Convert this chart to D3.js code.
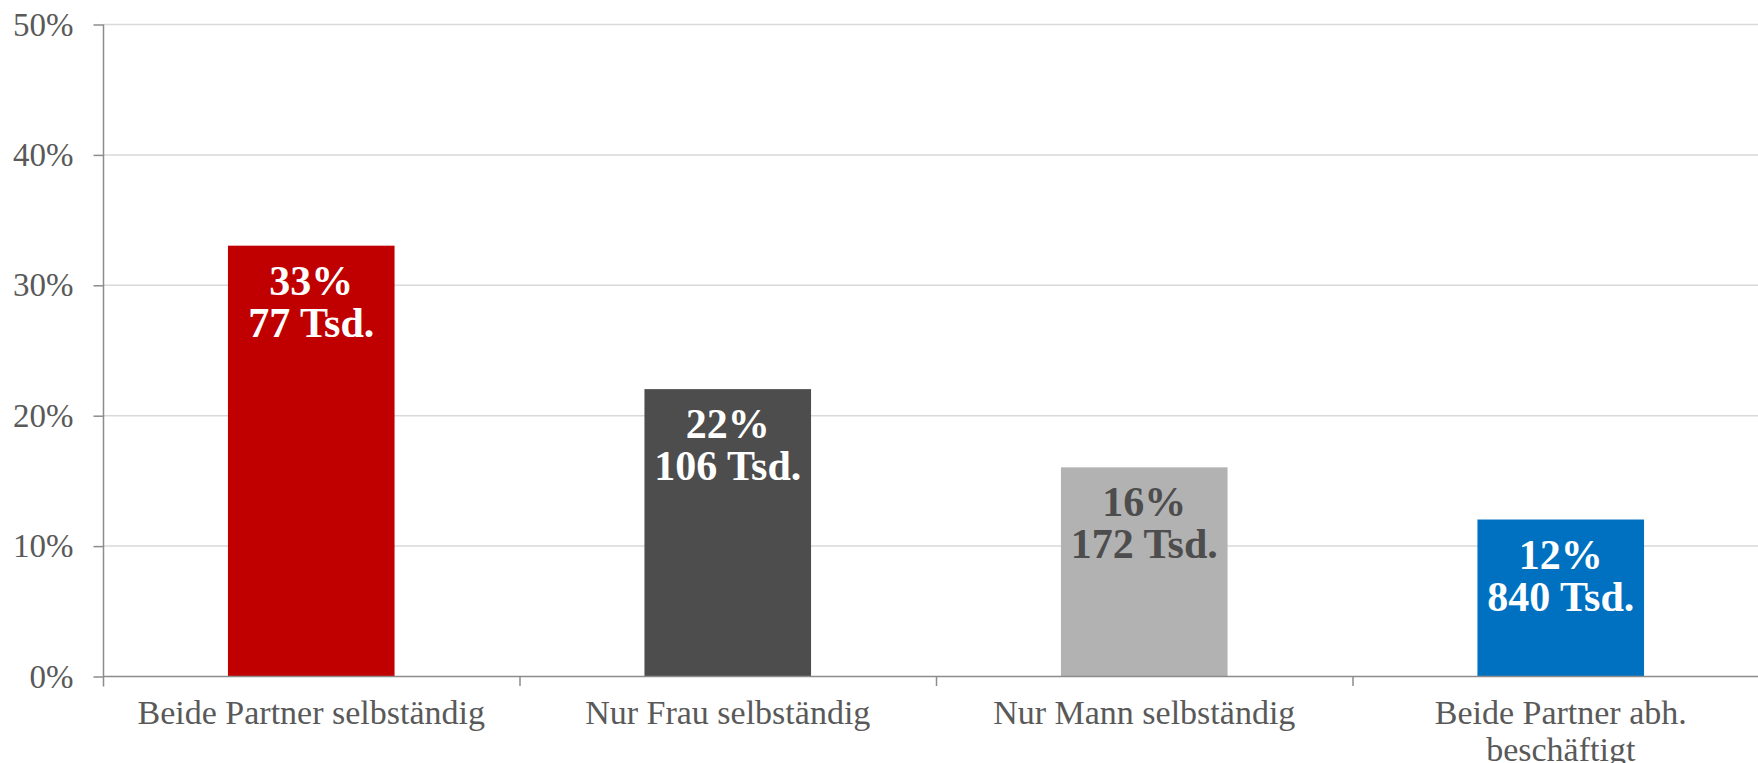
<!DOCTYPE html>
<html>
<head>
<meta charset="utf-8">
<script src="https://cdn.jsdelivr.net/npm/d3@7"></script>
<style>
    body { margin: 0; background: #fff; }
    svg { display: block; }
</style>
</head>
<body>
<div id="chart"></div>
<script>
// values
var categories = ["Beide Partner selbständig", "Nur Frau selbständig", "Nur Mann selbständig", "Beide Partner abh. beschäftigt"];
var shares = [33, 22, 16, 12];          // percent
var counts = [77, 106, 172, 840];       // Tsd.
var barColors = ["#c00000", "#4d4d4d", "#b2b2b2", "#0070c0"];
var labelColors = ["#ffffff", "#ffffff", "#4d4d4d", "#ffffff"];
var yTicks = [0, 10, 20, 30, 40, 50];

var w = 1758;
var h = 763;
var margin = {top: 24, right: -11, bottom: 87, left: 103};

var data = categories.map(function(c, i) {
    return {cat: c, share: shares[i], count: counts[i], color: barColors[i], text: labelColors[i]};
});

var svg = d3.select("#chart").append("svg")
    .attr("width", w)
    .attr("height", h);

var xScale = d3.scaleBand()
    .domain(categories)
    .range([margin.left, w - margin.right])
    .paddingInner(0.6)
    .paddingOuter(0.3);

var yScale = d3.scaleLinear()
    .domain([0, 50])
    .range([h - margin.bottom, margin.top]);

// gridlines
svg.append("g").selectAll("line").data(yTicks.slice(1)).enter()
    .append("line")
    .attr("x1", margin.left)
    .attr("x2", w)
    .attr("y1", function(d) { return yScale(d) + 0.5; })
    .attr("y2", function(d) { return yScale(d) + 0.5; })
    .attr("stroke", "#d9d9d9")
    .attr("stroke-width", 1.5);

// y axis
var yAxis = d3.axisLeft(yScale)
    .tickValues(yTicks)
    .tickSize(10)
    .tickPadding(20)
    .tickFormat(function(d) { return d + "%"; });

var yAxisGroup = svg.append("g")
    .attr("transform", "translate(" + [margin.left + 0.5, 0.5] + ")")
    .call(yAxis);
yAxisGroup.select(".domain")
    .attr("d", "M0," + (yScale(50)) + "V" + (yScale(0) + 10));
yAxisGroup.selectAll("line, path").attr("stroke", "#8c8c8c").attr("stroke-width", 1.5);
yAxisGroup.selectAll("text")
    .attr("fill", "#595959")
    .style("font-family", "'Liberation Serif', 'DejaVu Serif', serif")
    .style("font-size", "33px");

// bars
svg.append("g").selectAll("rect").data(data).enter()
    .append("rect")
    .attr("x", function(d) { return xScale(d.cat); })
    .attr("y", function(d) { return yScale(d.share); })
    .attr("width", xScale.bandwidth())
    .attr("height", function(d) { return yScale(0) - yScale(d.share); })
    .attr("fill", function(d) { return d.color; });

// x axis: base line plus ticks between categories
var xAxisGroup = svg.append("g");
xAxisGroup.append("line")
    .attr("x1", margin.left)
    .attr("x2", w)
    .attr("y1", yScale(0) + 0.5)
    .attr("y2", yScale(0) + 0.5)
    .attr("stroke", "#8c8c8c")
    .attr("stroke-width", 1.5);
xAxisGroup.selectAll(".xtick").data(categories.slice(1)).enter()
    .append("line")
    .attr("class", "xtick")
    .attr("x1", function(d) { return xScale(d) - xScale.step() * xScale.paddingInner() / 2 + 0.5; })
    .attr("x2", function(d) { return xScale(d) - xScale.step() * xScale.paddingInner() / 2 + 0.5; })
    .attr("y1", yScale(0))
    .attr("y2", yScale(0) + 10)
    .attr("stroke", "#8c8c8c")
    .attr("stroke-width", 1.5);

// category labels, wrapped when wider than the band
var catLabels = xAxisGroup.selectAll(".cat").data(categories).enter()
    .append("text")
    .attr("class", "cat")
    .attr("text-anchor", "middle")
    .attr("fill", "#595959")
    .style("font-family", "'Liberation Serif', 'DejaVu Serif', serif")
    .style("font-size", "34px");

catLabels.each(function(d) {
    var t = d3.select(this);
    var cx = xScale(d) + xScale.bandwidth() / 2;
    var words = d.split(" ");
    var lines = [];
    var line = [];
    var probe = t.append("tspan");
    words.forEach(function(word) {
        line.push(word);
        probe.text(line.join(" "));
        if (probe.node().getComputedTextLength() > 400 && line.length > 1) {
            line.pop();
            lines.push(line.join(" "));
            line = [word];
        }
    });
    lines.push(line.join(" "));
    probe.remove();
    lines.forEach(function(l, i) {
        t.append("tspan")
            .attr("x", cx)
            .attr("y", yScale(0) + 48 + i * 37)
            .text(l);
    });
});

// value labels inside bars
var valueLabels = svg.append("g").selectAll("text").data(data).enter()
    .append("text")
    .attr("text-anchor", "middle")
    .attr("fill", function(d) { return d.text; })
    .style("font-family", "'Liberation Serif', 'DejaVu Serif', serif")
    .style("font-size", "42px")
    .style("font-weight", "bold");

valueLabels.append("tspan")
    .attr("x", function(d) { return xScale(d.cat) + xScale.bandwidth() / 2; })
    .attr("y", function(d) { return yScale(d.share) + 49; })
    .text(function(d) { return d.share + "%"; });

valueLabels.append("tspan")
    .attr("x", function(d) { return xScale(d.cat) + xScale.bandwidth() / 2; })
    .attr("y", function(d) { return yScale(d.share) + 91; })
    .text(function(d) { return d.count + " Tsd."; });
</script>
</body>
</html>
